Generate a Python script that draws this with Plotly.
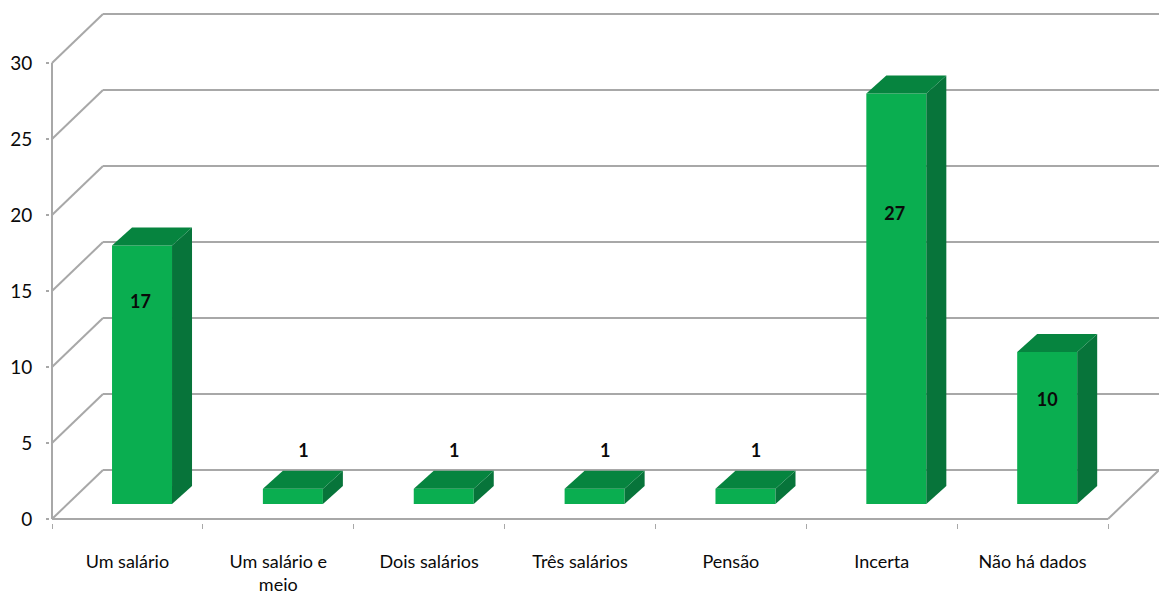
import plotly.graph_objects as go

# ---- data ----
categories = ["Um salário", "Um salário e<br>meio", "Dois salários", "Três salários",
              "Pensão", "Incerta", "Não há dados"]
values = [17, 1, 1, 1, 1, 27, 10]
y_ticks = [0, 5, 10, 15, 20, 25, 30]
label_heights = [14.2, 4.4, 4.4, 4.4, 4.4, 19.95, 7.7]
label_shifts = [-0.01, 0.07, 0.07, 0.07, 0.07, -0.01, 0.0]

# ---- style / 3D projection, in axis units ----
FONT = "Lato, Liberation Sans, sans-serif"
GRID = "#a8a8a8"
FRONT, TOP, SIDE = "#0aae50", "#06843f", "#07743a"
W, H = 1159, 596
PX_X = 150.86     # pixels per category
PX_Y = 15.2       # pixels per value unit
ML, MR, MT, MB = 50, 0, 10, 73
WALL_DX, WALL_DY = 51 / PX_X, 49 / PX_Y
BAR_W = 60 / PX_X
BAR_OFF = 14.6 / PX_X
BAR_BASE = 15 / PX_Y
DEPTH_X, DEPTH_Y = 20 / PX_X, 18 / PX_Y

x0 = -0.5 - (52 - ML) / PX_X
x1 = x0 + (W - ML - MR) / PX_X
y0 = -(596 - 519 - MB) / PX_Y
y1 = y0 + (H - MT - MB) / PX_Y
x_lo, x_hi = -0.5, len(categories) - 0.5
positions = list(range(len(categories)))

fig = go.Figure()

# front faces
fig.add_trace(go.Bar(
    x=[p + BAR_OFF for p in positions], y=values, base=[BAR_BASE] * len(values),
    width=BAR_W, marker=dict(color=FRONT, line=dict(width=0)), hoverinfo="skip"))

# side and top faces
for p, v in zip(positions, values):
    l = p + BAR_OFF - BAR_W / 2
    r = p + BAR_OFF + BAR_W / 2
    b = BAR_BASE
    t = BAR_BASE + v
    fig.add_trace(go.Scatter(
        x=[r, r + DEPTH_X, r + DEPTH_X, r, r], y=[b, b + DEPTH_Y, t + DEPTH_Y, t, b],
        mode="lines", fill="toself", fillcolor=SIDE, line=dict(width=0), hoverinfo="skip"))
    fig.add_trace(go.Scatter(
        x=[l, l + DEPTH_X, r + DEPTH_X, r, l], y=[t, t + DEPTH_Y, t + DEPTH_Y, t, t],
        mode="lines", fill="toself", fillcolor=TOP, line=dict(width=0), hoverinfo="skip"))

# data labels
fig.add_trace(go.Scatter(
    x=[p + BAR_OFF + s for p, s in zip(positions, label_shifts)], y=label_heights,
    mode="text", text=[str(v) for v in values],
    textfont=dict(family=FONT, size=18, color="#0a0a0a", weight="bold"), hoverinfo="skip"))

# wall and floor lines, behind the bars
shapes = []
def seg(xa, ya, xb, yb):
    shapes.append(dict(type="line", xref="x", yref="y", x0=xa, y0=ya, x1=xb, y1=yb,
                       layer="below", line=dict(color=GRID, width=2)))
for v in y_ticks:
    seg(x_lo, v, x_lo + WALL_DX, v + WALL_DY)
    seg(x_lo + WALL_DX, v + WALL_DY, x_hi + WALL_DX, v + WALL_DY)
seg(x_lo, 0, x_lo, y_ticks[-1])
seg(x_lo, 0, x_hi, 0)
seg(x_hi, 0, x_hi + WALL_DX, WALL_DY)

fig.update_layout(
    width=W, height=H, autosize=False, showlegend=False, barmode="overlay",
    paper_bgcolor="white", plot_bgcolor="white",
    margin=dict(l=ML, r=MR, t=MT, b=MB, pad=0, autoexpand=False),
    shapes=shapes,
    font=dict(family=FONT, size=18, color="#0a0a0a"),
    xaxis=dict(
        range=[x0, x1], showgrid=False, zeroline=False, showline=False, automargin=False,
        tickmode="array", tickvals=positions, ticktext=categories,
        ticks="outside", ticklen=22, tickcolor="rgba(0,0,0,0)", tickangle=0,
        tickfont=dict(family=FONT, size=18, color="#0a0a0a"),
        minor=dict(tickmode="array", tickvals=[p - 0.5 for p in positions] + [x_hi],
                   ticks="outside", ticklen=5, tickwidth=1, tickcolor=GRID, showgrid=False)),
    yaxis=dict(
        range=[y0, y1], showgrid=False, zeroline=False, showline=False, automargin=False,
        tickmode="array", tickvals=y_ticks, ticks="outside", ticklen=3, tickwidth=2,
        tickcolor=GRID, ticklabelstandoff=10,
        tickfont=dict(family=FONT, size=19, color="#0a0a0a")),
)

fig.write_html("out.html", config={"displayModeBar": False},
               post_script="document.body.style.margin='0';document.body.style.overflow='hidden';")
